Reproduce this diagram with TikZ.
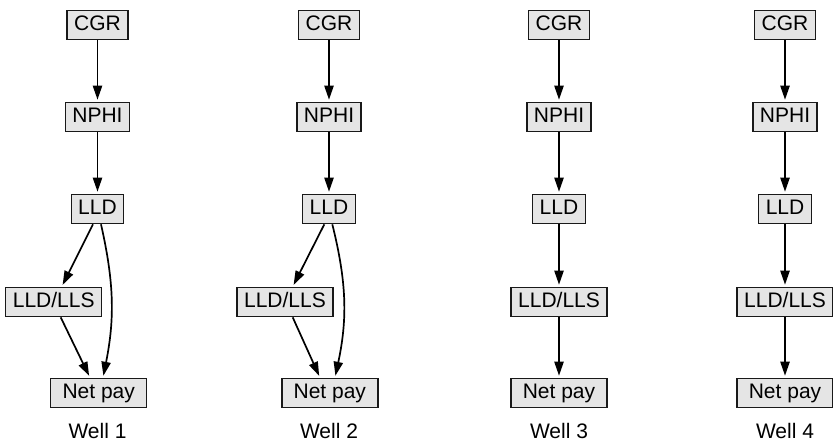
\documentclass[tikz,border=0pt]{standalone}
\usepackage{fontspec}
\setmainfont{Liberation Sans}
\usetikzlibrary{arrows.meta,calc}

\begin{document}
\begin{tikzpicture}[
  x=0.5pt, y=-0.5pt,
  >={Triangle[length=7pt,width=4.6pt]},
  logbox/.style={draw=black!90, fill=black!10, line width=0.7pt,
    font=\fontsize{10.5}{12}\selectfont, inner xsep=3.5pt, inner ysep=2.5pt,
    text height=7.6pt, text depth=2pt},
  short/.style={logbox, minimum width=30.5pt},
  long/.style={logbox, minimum width=48pt},
  arr/.style={->, line width=0.85pt, shorten >=1pt},
  lbl/.style={font=\fontsize{10.5}{12}\selectfont}]

\useasboundingbox (0,0) rectangle (833,441);

% common top of each well
\foreach \w/\x in {1/97.5, 2/329, 3/559, 4/785} {
  \node[short] (cgr\w) at (\x,25) {CGR};
  \node[short] (nphi\w) at (\x,117) {NPHI};
  \node[logbox] (lld\w) at (\x,209) {LLD};
  \node[lbl] (well\w) at (\x,431) {Well \w};
  \draw[arr] (cgr\w) -- (nphi\w);
  \draw[arr] (nphi\w) -- (lld\w);
}

% Well 1
\node[long] (lls1) at (53.7,302) {LLD/LLS};
\node[long] (net1) at (98.7,393) {Net pay};
\draw[arr] ($(lld1.south)+(-4.5,0)$) -- ($(lls1.north)+(8,0)$);
\draw[arr] ($(lls1.south)+(7,0)$) -- ($(net1.north)+(-8.7,0)$);
\draw[arr] ($(lld1.south)+(3.5,0)$) to[bend left=12] ($(net1.north)+(4.3,0)$);

% Well 2
\node[long] (lls2) at (285,302) {LLD/LLS};
\node[long] (net2) at (329.8,393) {Net pay};
\draw[arr] ($(lld2.south)+(-4.7,0)$) -- ($(lls2.north)+(7.7,0)$);
\draw[arr] ($(lls2.south)+(7.7,0)$) -- ($(net2.north)+(-9.8,0)$);
\draw[arr] ($(lld2.south)+(3.3,0)$) to[bend left=13] ($(net2.north)+(5.2,0)$);

% Wells 3 and 4
\foreach \w/\x in {3/559, 4/785} {
  \node[long] (lls\w) at (\x,302) {LLD/LLS};
  \node[long] (net\w) at (\x,393) {Net pay};
  \draw[arr] (lld\w) -- (lls\w);
  \draw[arr] (lls\w) -- (net\w);
}

\end{tikzpicture}
\end{document}
